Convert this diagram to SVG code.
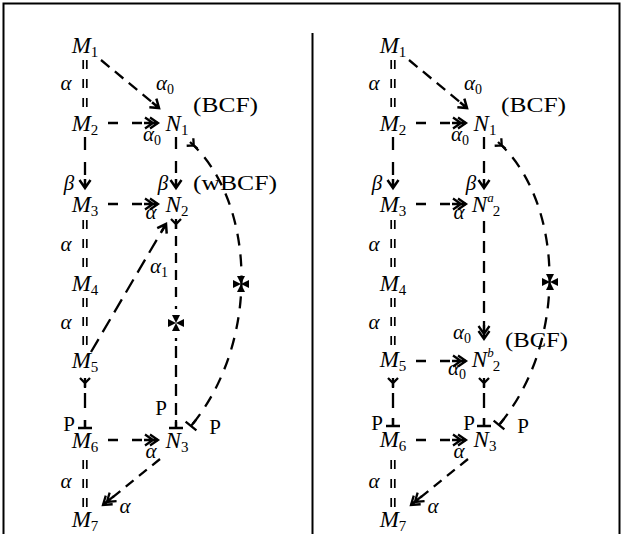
<svg xmlns="http://www.w3.org/2000/svg" width="623" height="534" viewBox="0 0 623 534">
<style>
.m{font-family:"Liberation Serif",serif;font-style:italic;font-size:23px;fill:#000}
.sub{font-size:15px;font-style:normal}
.sup{font-size:13px;font-style:italic}
.lab{font-family:"Liberation Serif",serif;font-style:italic;font-size:21px;fill:#000}
.ls{font-size:14px;font-style:normal}
.rm{font-family:"Liberation Serif",serif;font-size:21px;fill:#000}
.d{fill:none;stroke:#000;stroke-width:2.3;stroke-dasharray:11 8}
.dbl{fill:none;stroke:#000;stroke-width:1.7;stroke-dasharray:9 10}
.frame{fill:none;stroke:#000;stroke-width:2}
</style>
<defs>
<marker id="ah" markerUnits="userSpaceOnUse" markerWidth="24" markerHeight="20" viewBox="-16 -10 24 20" refX="0" refY="0" orient="auto" overflow="visible">
<path d="M-8,-5.5 L0,0 L-8,5.5 M-9,0 L0,0" fill="none" stroke="#000" stroke-width="2.5"/>
</marker>
<marker id="ah2" markerUnits="userSpaceOnUse" markerWidth="24" markerHeight="20" viewBox="-16 -10 24 20" refX="0" refY="0" orient="auto" overflow="visible">
<path d="M-8,-5.5 L0,0 L-8,5.5 M-13,-5.5 L-5,0 L-13,5.5 M-14,0 L0,0" fill="none" stroke="#000" stroke-width="2.3"/>
</marker>
<marker id="yt" markerUnits="userSpaceOnUse" markerWidth="20" markerHeight="20" viewBox="-5 -10 20 20" refX="0" refY="0" orient="auto" overflow="visible">
<path d="M0,-5 L5,0 L0,5 M5,0 L10,0" fill="none" stroke="#000" stroke-width="2.3"/>
</marker>
<marker id="perp" markerUnits="userSpaceOnUse" markerWidth="20" markerHeight="20" viewBox="-10 -10 20 20" refX="0" refY="0" orient="auto" overflow="visible">
<path d="M0,-7 L0,7 M-8,0 L0,0" fill="none" stroke="#000" stroke-width="2.3"/>
</marker>
<path id="cross" d="M0,0 L-4,-8 L4,-8 Z M0,0 L-4,8 L4,8 Z M0,0 L-8,-4 L-8,4 Z M0,0 L8,-4 L8,4 Z" fill="#000"/>
</defs>

<rect class="frame" x="3.5" y="3.5" width="616" height="545"/>
<line class="frame" x1="312.5" y1="33" x2="312.5" y2="540"/>

<!-- LEFT PANEL -->
<g id="left-panel">
<g id="L-connectors">
<path class="d" d="M101,60 L159,108" style="stroke-dasharray:11 7" marker-end="url(#ah)"/>
<path class="d" d="M108,123 L158,123" style="stroke-dasharray:10 14" marker-end="url(#ah2)"/>
<path class="d" d="M85,137 L85,188" style="stroke-dasharray:13 12" marker-end="url(#ah)"/>
<path class="d" d="M176,137 L176,188" style="stroke-dasharray:12 12" marker-end="url(#ah)"/>
<path class="d" d="M108,204 L158,204" style="stroke-dasharray:10 14" marker-end="url(#ah2)"/>
<path class="d" d="M91,352 L166,224" style="stroke-dasharray:15 8" marker-end="url(#ah)"/>
<path class="d" d="M176,219 L176,302" style="stroke-dasharray:10 7" marker-start="url(#yt)"/>
<line x1="176" y1="306" x2="176" y2="309" stroke="#000" stroke-width="2.3"/>
<use href="#cross" x="176" y="323"/>
<line x1="176" y1="338" x2="176" y2="341" stroke="#000" stroke-width="2.3"/>
<path class="d" d="M176,346 L176,428" style="stroke-dasharray:12 7" marker-end="url(#perp)"/>
<path class="d" d="M85,378 L85,428" style="stroke-dasharray:9 6 15 12 10" marker-start="url(#yt)" marker-end="url(#perp)"/>
<path class="d" d="M108,440 L158,440" style="stroke-dasharray:10 14" marker-end="url(#ah2)"/>
<path class="d" d="M160,459 L103,505" style="stroke-dasharray:10 7" marker-end="url(#ah2)"/>
<path class="dbl" d="M83.2,60 L83.2,111 M86.8,60 L86.8,111"/>
<path class="dbl" d="M83.2,220 L83.2,272 M86.8,220 L86.8,272"/>
<path class="dbl" d="M83.2,298 L83.2,352 M86.8,298 L86.8,352"/>
<path class="dbl" d="M83.2,460 L83.2,507 M86.8,460 L86.8,507"/>
<path class="d" d="M190,142 C255,200 262,340 191,426" style="stroke-dasharray:12 9" marker-start="url(#yt)" marker-end="url(#perp)"/>
<use href="#cross" x="241" y="284"/>
</g>
<g id="L-M1"><text class="m" x="85" y="53" text-anchor="middle">M<tspan class="sub" dy="4">1</tspan></text></g>
<g id="L-M2"><text class="m" x="85" y="131" text-anchor="middle">M<tspan class="sub" dy="4">2</tspan></text></g>
<g id="L-M3"><text class="m" x="85" y="212" text-anchor="middle">M<tspan class="sub" dy="4">3</tspan></text></g>
<g id="L-M4"><text class="m" x="85" y="291" text-anchor="middle">M<tspan class="sub" dy="4">4</tspan></text></g>
<g id="L-M5"><text class="m" x="85" y="368" text-anchor="middle">M<tspan class="sub" dy="4">5</tspan></text></g>
<g id="L-M6"><text class="m" x="85" y="448" text-anchor="middle">M<tspan class="sub" dy="4">6</tspan></text></g>
<g id="L-M7"><text class="m" x="85" y="527" text-anchor="middle">M<tspan class="sub" dy="4">7</tspan></text></g>
<g id="L-N1"><text class="m" x="177" y="131" text-anchor="middle">N<tspan class="sub" dy="4">1</tspan></text></g>
<g id="L-N2"><text class="m" x="177" y="212" text-anchor="middle">N<tspan class="sub" dy="4">2</tspan></text></g>
<g id="L-N3"><text class="m" x="177" y="448" text-anchor="middle">N<tspan class="sub" dy="4">3</tspan></text></g>
<g id="L-BCF"><text class="rm" x="193" y="112" textLength="65" lengthAdjust="spacingAndGlyphs">(BCF)</text></g>
<g id="L-wBCF"><text class="rm" x="193" y="190" textLength="84" lengthAdjust="spacingAndGlyphs">(wBCF)</text></g>
<g id="L-labels">
<text class="lab" x="66" y="90" text-anchor="middle">α</text>
<text class="lab" x="165" y="90" text-anchor="middle">α<tspan class="ls" dy="4">0</tspan></text>
<text class="lab" x="152" y="141" text-anchor="middle">α<tspan class="ls" dy="4">0</tspan></text>
<text class="lab" x="69" y="190" text-anchor="middle">β</text>
<text class="lab" x="163" y="190" text-anchor="middle">β</text>
<text class="lab" x="151" y="219" text-anchor="middle">α</text>
<text class="lab" x="66" y="251" text-anchor="middle">α</text>
<text class="lab" x="159" y="273" text-anchor="middle">α<tspan class="ls" dy="4">1</tspan></text>
<text class="lab" x="66" y="329" text-anchor="middle">α</text>
<text class="rm" x="69" y="431" text-anchor="middle">P</text>
<text class="rm" x="161" y="415" text-anchor="middle">P</text>
<text class="rm" x="215" y="434" text-anchor="middle">P</text>
<text class="lab" x="151" y="458" text-anchor="middle">α</text>
<text class="lab" x="66" y="488" text-anchor="middle">α</text>
<text class="lab" x="125" y="513" text-anchor="middle">α</text>
</g>
</g>

<!-- RIGHT PANEL -->
<g id="right-panel" transform="translate(308,0)">
<g id="R-connectors">
<path class="d" d="M101,60 L159,108" style="stroke-dasharray:11 7" marker-end="url(#ah)"/>
<path class="d" d="M108,123 L158,123" style="stroke-dasharray:10 14" marker-end="url(#ah2)"/>
<path class="d" d="M85,137 L85,188" style="stroke-dasharray:13 12" marker-end="url(#ah)"/>
<path class="d" d="M176,137 L176,188" style="stroke-dasharray:12 12" marker-end="url(#ah)"/>
<path class="d" d="M108,204 L158,204" style="stroke-dasharray:10 14" marker-end="url(#ah2)"/>
<path class="d" d="M176,221 L176,339" style="stroke-dasharray:12 8" marker-end="url(#ah2)"/>
<path class="d" d="M108,361 L158,361" style="stroke-dasharray:10 14" marker-end="url(#ah2)"/>
<path class="d" d="M176,378 L176,426" style="stroke-dasharray:9 6 15 10 10" marker-start="url(#yt)" marker-end="url(#perp)"/>
<path class="d" d="M85,378 L85,426" style="stroke-dasharray:9 6 15 10 10" marker-start="url(#yt)" marker-end="url(#perp)"/>
<path class="d" d="M108,440 L158,440" style="stroke-dasharray:10 14" marker-end="url(#ah2)"/>
<path class="d" d="M160,459 L103,505" style="stroke-dasharray:10 7" marker-end="url(#ah2)"/>
<path class="dbl" d="M83.2,60 L83.2,111 M86.8,60 L86.8,111"/>
<path class="dbl" d="M83.2,220 L83.2,272 M86.8,220 L86.8,272"/>
<path class="dbl" d="M83.2,298 L83.2,352 M86.8,298 L86.8,352"/>
<path class="dbl" d="M83.2,460 L83.2,507 M86.8,460 L86.8,507"/>
<path class="d" d="M190,142 C255,200 262,340 191,425" style="stroke-dasharray:12 9" marker-start="url(#yt)" marker-end="url(#perp)"/>
<use href="#cross" x="242" y="282"/>
</g>
<g id="R-M1"><text class="m" x="85" y="53" text-anchor="middle">M<tspan class="sub" dy="4">1</tspan></text></g>
<g id="R-M2"><text class="m" x="85" y="131" text-anchor="middle">M<tspan class="sub" dy="4">2</tspan></text></g>
<g id="R-M3"><text class="m" x="85" y="212" text-anchor="middle">M<tspan class="sub" dy="4">3</tspan></text></g>
<g id="R-M4"><text class="m" x="85" y="291" text-anchor="middle">M<tspan class="sub" dy="4">4</tspan></text></g>
<g id="R-M5"><text class="m" x="85" y="367" text-anchor="middle">M<tspan class="sub" dy="4">5</tspan></text></g>
<g id="R-M6"><text class="m" x="85" y="447" text-anchor="middle">M<tspan class="sub" dy="4">6</tspan></text></g>
<g id="R-M7"><text class="m" x="85" y="527" text-anchor="middle">M<tspan class="sub" dy="4">7</tspan></text></g>
<g id="R-N1"><text class="m" x="177" y="131" text-anchor="middle">N<tspan class="sub" dy="4">1</tspan></text></g>
<g id="R-N2a"><text class="m" x="178" y="212" text-anchor="middle">N<tspan class="sup" dy="-10">a</tspan><tspan class="sub" dx="-1" dy="14">2</tspan></text></g>
<g id="R-N2b"><text class="m" x="178" y="367" text-anchor="middle">N<tspan class="sup" dy="-10">b</tspan><tspan class="sub" dx="-1" dy="14">2</tspan></text></g>
<g id="R-N3"><text class="m" x="177" y="447" text-anchor="middle">N<tspan class="sub" dy="4">3</tspan></text></g>
<g id="R-BCF1"><text class="rm" x="193" y="112" textLength="65" lengthAdjust="spacingAndGlyphs">(BCF)</text></g>
<g id="R-BCF2"><text class="rm" x="197" y="347" textLength="63" lengthAdjust="spacingAndGlyphs">(BCF)</text></g>
<g id="R-labels">
<text class="lab" x="66" y="90" text-anchor="middle">α</text>
<text class="lab" x="165" y="90" text-anchor="middle">α<tspan class="ls" dy="4">0</tspan></text>
<text class="lab" x="152" y="141" text-anchor="middle">α<tspan class="ls" dy="4">0</tspan></text>
<text class="lab" x="69" y="190" text-anchor="middle">β</text>
<text class="lab" x="163" y="190" text-anchor="middle">β</text>
<text class="lab" x="151" y="219" text-anchor="middle">α</text>
<text class="lab" x="66" y="251" text-anchor="middle">α</text>
<text class="lab" x="66" y="329" text-anchor="middle">α</text>
<text class="lab" x="154" y="339" text-anchor="middle">α<tspan class="ls" dy="4">0</tspan></text>
<text class="lab" x="149" y="375" text-anchor="middle">α<tspan class="ls" dy="4">0</tspan></text>
<text class="rm" x="69" y="430" text-anchor="middle">P</text>
<text class="rm" x="161" y="430" text-anchor="middle">P</text>
<text class="rm" x="215" y="433" text-anchor="middle">P</text>
<text class="lab" x="151" y="458" text-anchor="middle">α</text>
<text class="lab" x="66" y="488" text-anchor="middle">α</text>
<text class="lab" x="125" y="513" text-anchor="middle">α</text>
</g>
</g>
</svg>
